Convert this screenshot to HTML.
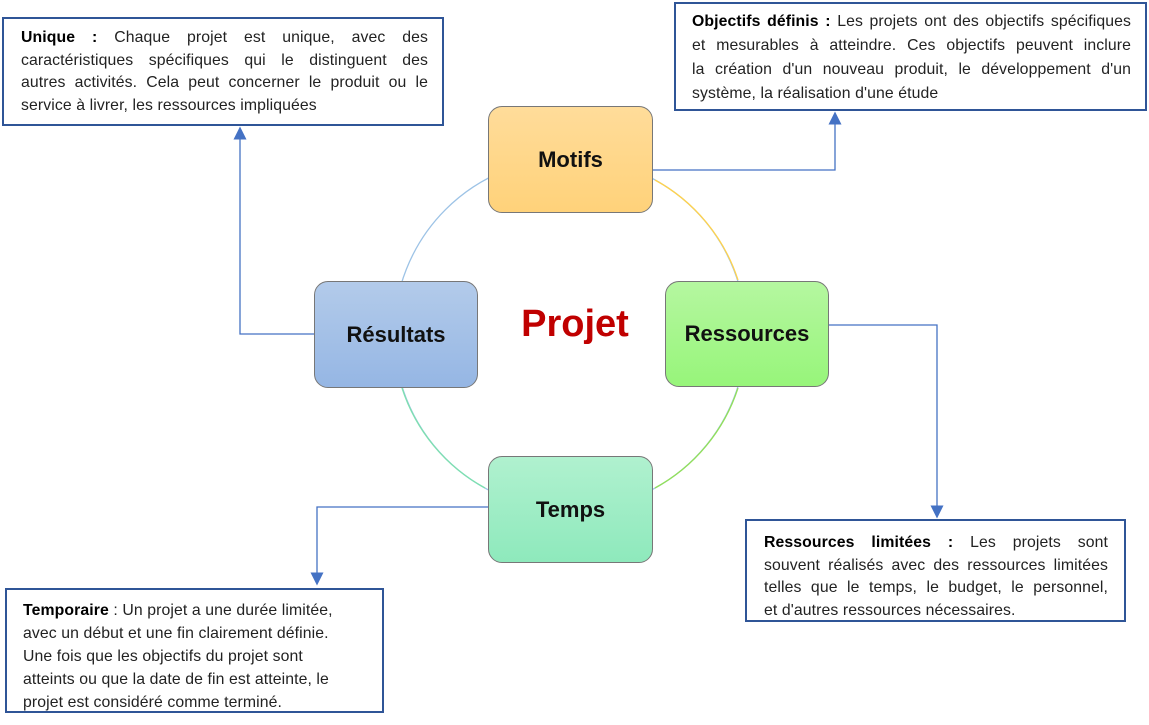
<!DOCTYPE html>
<html><head><meta charset="utf-8"><style>
body{margin:0;width:1149px;height:725px;background:#fff;position:relative;overflow:hidden;font-family:"Liberation Sans",sans-serif}
.box{position:absolute;border:2px solid #2f5597;background:#fff;box-sizing:border-box;font-size:15.8px;color:#222;letter-spacing:0.1px}
.box div{white-space:nowrap}
.j{text-align:justify;text-align-last:justify}
.node{position:absolute;box-sizing:border-box;border:1.5px solid #777;border-radius:14px;display:flex;align-items:center;justify-content:center;font-weight:bold;font-size:22px;color:#111}
b{color:#000}
</style></head><body>
<svg width="1149" height="725" style="position:absolute;left:0;top:0">
<defs><marker id="a" markerWidth="10" markerHeight="10" refX="5" refY="5" orient="auto"><path d="M0,0 L10,5 L0,10 z" fill="#4472c4"/></marker></defs>
<circle cx="570" cy="334" r="176" fill="none" stroke="#9dc3e6" stroke-width="1.3"/>
<path d="M655,180 A176,176 0 0 1 738,280" fill="none" stroke="#ffd24d" stroke-width="1.3"/>
<path d="M738,388 A176,176 0 0 1 655,488" fill="none" stroke="#92e05a" stroke-width="1.3"/>
<path d="M485,488 A176,176 0 0 1 402,388" fill="none" stroke="#7ee0b0" stroke-width="1.3"/>
<g fill="none" stroke="#4472c4" stroke-width="1.3">
<polyline points="652,170 835,170 835,118" marker-end="url(#a)"/>
<polyline points="828,325 937,325 937,512" marker-end="url(#a)"/>
<polyline points="314,334 240,334 240,133" marker-end="url(#a)"/>
<polyline points="488,507 317,507 317,579" marker-end="url(#a)"/>
</g>
</svg>
<div class="box" style="left:2px;top:17px;width:442px;height:109px;padding:8px 14px 0 17px;line-height:22.5px">
<div class="j"><b>Unique :</b> Chaque projet est unique, avec des</div>
<div class="j">caractéristiques spécifiques qui le distinguent des</div>
<div class="j">autres activités. Cela peut concerner le produit ou le</div>
<div>service à livrer, les ressources impliquées</div></div>
<div class="box" style="left:674px;top:2px;width:473px;height:109px;padding:6px 14px 0 16px;line-height:24px">
<div class="j"><b>Objectifs définis :</b> Les projets ont des objectifs spécifiques</div>
<div class="j">et mesurables à atteindre. Ces objectifs peuvent inclure</div>
<div class="j">la création d'un nouveau produit, le développement d'un</div>
<div>système, la réalisation d'une étude</div></div>
<div class="box" style="left:745px;top:519px;width:381px;height:103px;padding:11px 16px 0 17px;line-height:22.5px">
<div class="j"><b>Ressources limitées :</b> Les projets sont</div>
<div class="j">souvent réalisés avec des ressources limitées</div>
<div class="j">telles que le temps, le budget, le personnel,</div>
<div>et d'autres ressources nécessaires.</div></div>
<div class="box" style="left:5px;top:588px;width:379px;height:125px;padding:9px 8px 0 16px;line-height:23px">
<div><b>Temporaire</b> : Un projet a une durée limitée,</div>
<div>avec un début et une fin clairement définie.</div>
<div>Une fois que les objectifs du projet sont</div>
<div>atteints ou que la date de fin est atteinte, le</div>
<div>projet est considéré comme terminé.</div></div>
<div class="node" style="left:488px;top:106px;width:165px;height:107px;background:linear-gradient(#ffdc9a,#ffd27a)">Motifs</div>
<div class="node" style="left:665px;top:281px;width:164px;height:106px;background:linear-gradient(#b5f7a0,#97f57a)">Ressources</div>
<div class="node" style="left:314px;top:281px;width:164px;height:107px;background:linear-gradient(#b3cbea,#95b6e4)">Résultats</div>
<div class="node" style="left:488px;top:456px;width:165px;height:107px;background:linear-gradient(#b0f1cf,#8ee9bc)">Temps</div>
<div style="position:absolute;left:500px;top:303px;width:150px;text-align:center;color:#c00000;font-weight:bold;font-size:38px">Projet</div>
</body></html>
